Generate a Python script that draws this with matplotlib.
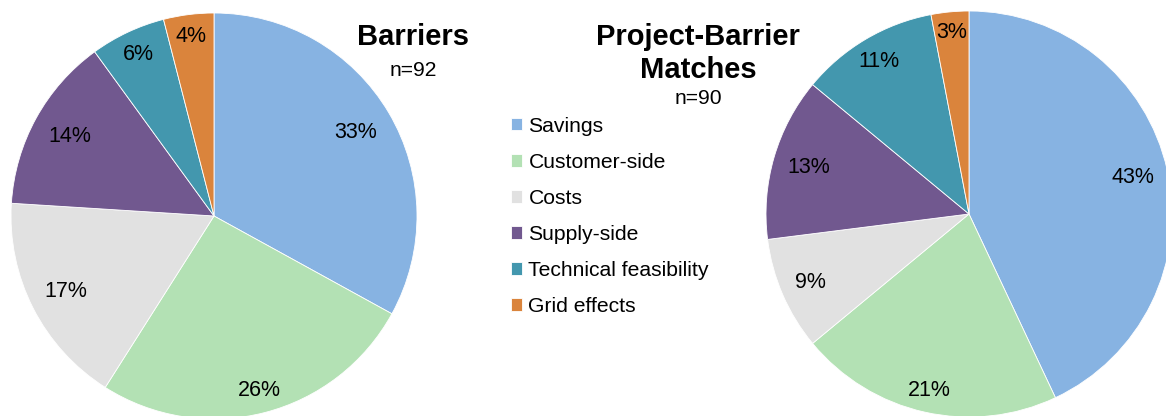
import numpy as np
import matplotlib
matplotlib.use("Agg")
import matplotlib.pyplot as plt

plt.rcParams["font.family"] = ["Liberation Sans", "DejaVu Sans"]

# data
categories = ["Savings", "Customer-side", "Costs", "Supply-side",
              "Technical feasibility", "Grid effects"]
barriers = [33, 26, 17, 14, 6, 4]
matches = [43, 21, 9, 13, 11, 3]
colors = ["#87B3E2", "#B3E1B4", "#E1E1E1", "#71588F", "#4397AE", "#DA843C"]

# radial position of the % labels (fraction of radius)
dist_left = [0.81, 0.89, 0.82, 0.81, 0.88, 0.89]
dist_right = [0.83, 0.89, 0.85, 0.82, 0.87, 0.90]

W, H = 1166, 416
fig = plt.figure(figsize=(W / 100, H / 100), dpi=100)


def px_axes(cx, cy, r):
    # axes box from pixel center/radius (y measured from top)
    return fig.add_axes([(cx - r) / W, (H - cy - r) / H, 2 * r / W, 2 * r / H])


def draw_pie(ax, vals, dists):
    wedges, _ = ax.pie(vals, colors=colors, startangle=90, counterclock=False,
                       wedgeprops=dict(edgecolor="white", linewidth=0.6))
    for w, v, d in zip(wedges, vals, dists):
        ang = np.deg2rad((w.theta1 + w.theta2) / 2)
        ax.text(d * np.cos(ang), d * np.sin(ang), f"{v}%", ha="center",
                va="center", fontsize=15.5, color="black")
    ax.set_xlim(-1, 1)
    ax.set_ylim(-1, 1)
    ax.set_aspect("equal")
    ax.axis("off")
    return wedges


ax1 = px_axes(214, 216, 203)
wedges = draw_pie(ax1, barriers, dist_left)

ax2 = px_axes(969, 214, 203)
draw_pie(ax2, matches, dist_right)

# titles
fig.text(413 / W, 1 - 37 / H, "Barriers", ha="center", va="center",
         fontsize=21, fontweight="bold")
fig.text(413 / W, 1 - 71 / H, "n=92", ha="center", va="center", fontsize=15.2)
fig.text(698 / W, 1 - 37 / H, "Project-Barrier", ha="center", va="center",
         fontsize=21, fontweight="bold")
fig.text(698 / W, 1 - 70 / H, "Matches", ha="center", va="center",
         fontsize=21, fontweight="bold")
fig.text(698 / W, 1 - 99 / H, "n=90", ha="center", va="center", fontsize=15.2)

fig.legend(wedges, categories, loc="upper left",
           bbox_to_anchor=(500 / W, 1 - 106 / H), frameon=False,
           fontsize=15.2, handlelength=0.55, handleheight=0.55,
           handletextpad=0.3, labelspacing=0.81, borderpad=0)

fig.savefig("out.png", dpi=100, facecolor="white")
